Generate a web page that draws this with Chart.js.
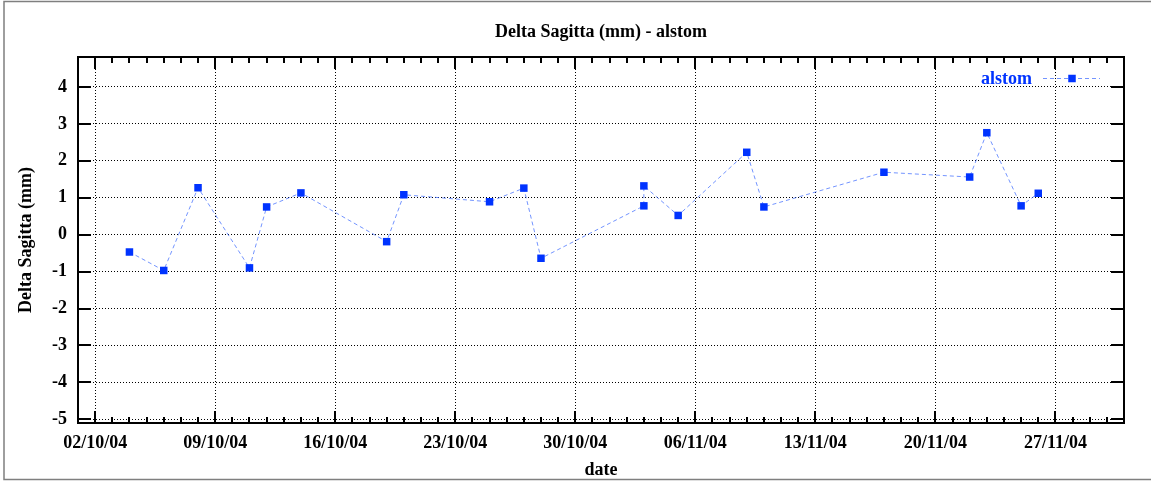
<!DOCTYPE html>
<html><head><meta charset="utf-8">
<script src="https://cdn.jsdelivr.net/npm/chart.js@4/dist/chart.umd.min.js"></script>
<style>html,body{margin:0;padding:0;background:#fff;} canvas{display:block;}</style>
</head><body>
<canvas id="c" width="1151" height="484"></canvas>
<script>
const chartTitle = 'Delta Sagitta (mm) - alstom';
const seriesName = 'alstom';
const xTitle = 'date';
const yTitle = 'Delta Sagitta (mm)';
const dates = ['04/10/04','06/10/04','08/10/04','11/10/04','12/10/04','14/10/04','19/10/04','20/10/04',
  '25/10/04','27/10/04','28/10/04','03/11/04','03/11/04','05/11/04','09/11/04','10/11/04',
  '17/11/04','22/11/04','23/11/04','25/11/04','26/11/04'];
const values = [-0.47,-0.97,1.27,-0.90,0.75,1.13,-0.19,1.08,
  0.89,1.26,-0.64,0.78,1.32,0.52,2.23,0.75,
  1.69,1.56,2.76,0.78,1.12];
const xTickLabels = ['02/10/04','09/10/04','16/10/04','23/10/04','30/10/04','06/11/04','13/11/04','20/11/04','27/11/04'];
const yTicks = [-5,-4,-3,-2,-1,0,1,2,3,4];
const xRange = ['01/10/04','01/12/04'];
const yRange = [-5.1, 4.81];

const FONT = '"Liberation Serif", "Times New Roman", serif';
const MARK = '#0033ff';
const LINE = 'rgba(40,90,255,0.65)';

function toDay(s){
  const [d,m,y] = s.split('/').map(Number);
  return (Date.UTC(2000+y, m-1, d) - Date.UTC(2004, 9, 1)) / 86400000;
}
const points = dates.map((d,i)=>({x: toDay(d), y: values[i]}));

const deco = {
  id: 'deco',
  beforeDraw(chart){
    const ctx = chart.ctx;
    ctx.save();
    ctx.strokeStyle = '#7f7f7f'; ctx.lineWidth = 1.5;
    ctx.strokeRect(4, 1.5, 1300, 478);
    ctx.restore();
  },
  afterDraw(chart){
    const {ctx, chartArea:a, scales:{x, y}} = chart;
    const majors = x.ticks.map(t=>t.value);
    ctx.save();
    // title centred over the plot area
    ctx.font = 'bold 18px ' + FONT;
    ctx.fillStyle = '#000'; ctx.textAlign = 'center'; ctx.textBaseline = 'alphabetic';
    ctx.fillText(chartTitle, (a.left + a.right) / 2, 36.5);
    ctx.strokeStyle = '#000'; ctx.lineWidth = 2;
    ctx.beginPath();
    for (let d = Math.ceil(x.min)+1; d < x.max; d++){
      const px = Math.round(x.getPixelForValue(d));
      const len = majors.includes(d) ? 12 : 6;
      ctx.moveTo(px, a.top); ctx.lineTo(px, a.top+len);
      ctx.moveTo(px, a.bottom); ctx.lineTo(px, a.bottom-len);
    }
    y.ticks.forEach(t=>{
      const py = Math.round(y.getPixelForValue(t.value));
      ctx.moveTo(a.left, py); ctx.lineTo(a.left+13, py);
      ctx.moveTo(a.right, py); ctx.lineTo(a.right-13, py);
    });
    ctx.stroke();
    ctx.strokeRect(a.left, a.top, a.right-a.left, a.bottom-a.top);
    // legend
    const ly = a.top + 21.5;
    ctx.font = 'bold 18px ' + FONT;
    ctx.fillStyle = MARK;
    ctx.textAlign = 'right'; ctx.textBaseline = 'middle';
    ctx.fillText(seriesName, a.right - 92, ly + 1);
    ctx.strokeStyle = LINE; ctx.lineWidth = 1; ctx.setLineDash([4,3]);
    ctx.beginPath(); ctx.moveTo(a.right-81, ly); ctx.lineTo(a.right-24, ly); ctx.stroke();
    ctx.setLineDash([]);
    ctx.fillStyle = MARK;
    ctx.fillRect(a.right-52-3.75, ly-3.75, 7.5, 7.5);
    ctx.restore();
  }
};

new Chart(document.getElementById('c'), {
  type: 'line',
  data: { datasets: [{
    label: seriesName,
    data: points,
    borderColor: LINE, borderWidth: 1, borderDash: [4,3],
    backgroundColor: MARK, fill: false, tension: 0,
    pointStyle: 'rect', pointRadius: 5.3, pointBorderWidth: 0,
    pointBackgroundColor: MARK, pointHoverRadius: 5.3
  }]},
  options: {
    responsive: false, animation: false, devicePixelRatio: 1,
    layout: { padding: { left: 0, right: 27, top: 57, bottom: 0 } },
    plugins: {
      legend: { display: false }, tooltip: { enabled: false }, title: { display: false }
    },
    scales: {
      x: { type: 'linear', min: toDay(xRange[0]), max: toDay(xRange[1]),
        afterBuildTicks: s => { s.ticks = xTickLabels.map(l=>({value: toDay(l)})); },
        afterFit: s => { s.height = 61; },
        ticks: { callback: (v,i) => xTickLabels[i], autoSkip: false, maxRotation: 0, padding: 10,
          color: '#000', font: { family: FONT, size: 18, weight: 'bold' } },
        grid: { color: '#000', lineWidth: 1, drawTicks: false },
        border: { display: false, dash: [1,2] },
        title: { display: true, text: xTitle, color: '#000', padding: { top: 0, bottom: 3 },
          font: { family: FONT, size: 18, weight: 'bold' } }
      },
      y: { type: 'linear', min: yRange[0], max: yRange[1],
        afterBuildTicks: s => { s.ticks = yTicks.map(v=>({value: v})); },
        afterFit: s => { s.width = 78; },
        ticks: { padding: 11, color: '#000', font: { family: FONT, size: 18, weight: 'bold' } },
        grid: { color: '#000', lineWidth: 1, drawTicks: false },
        border: { display: false, dash: [1,2] },
        title: { display: true, text: yTitle, color: '#000', padding: { top: 16, bottom: 0 },
          font: { family: FONT, size: 18, weight: 'bold' } }
      }
    }
  },
  plugins: [deco]
});
</script>
</body></html>
